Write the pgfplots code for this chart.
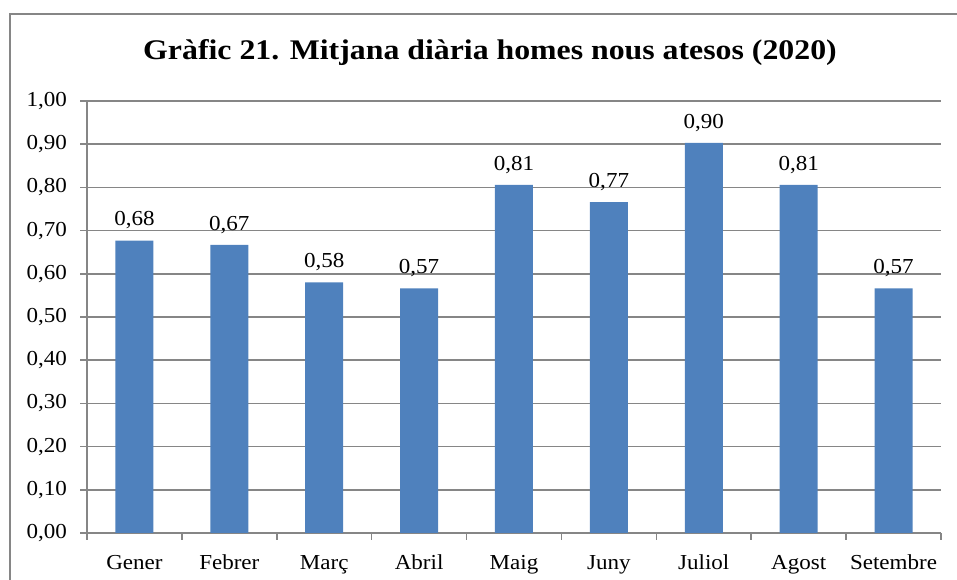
\documentclass[border=0pt]{standalone}
\usepackage{fontspec}
\setmainfont{Liberation Serif}
\newfontfamily\titlefont[FakeStretch=1.12]{Liberation Serif}
\newfontfamily\lblfont[FakeStretch=1.08]{Liberation Serif}
\usepackage{pgfplots}
\pgfplotsset{compat=1.18}
\definecolor{barblue}{HTML}{4F81BD}
\definecolor{gridgray}{HTML}{868686}
\begin{document}
\begin{tikzpicture}
\begin{axis}[
  name=ax,
  scale only axis,
  width=640.5pt, height=324pt,
  xmin=-0.5, xmax=8.5, ymin=0, ymax=1,
  axis x line=bottom, axis y line=left,
  axis line style={gridgray, line width=1.2pt, -},
  ybar, bar width=28.5pt,
  xtick={0,...,8},
  xticklabels={Gener,Febrer,Març,Abril,Maig,Juny,Juliol,Agost,Setembre},
  minor xtick={-0.5,0.5,...,8.5},
  major x tick style={draw=none},
  minor x tick style={gridgray, line width=1.2pt},
  minor tick length=5pt,
  x tick label style={font=\lblfont\fontsize{16}{19}\selectfont, anchor=base, yshift=-22.5pt},
  ytick={0,0.1,...,1.0},
  ymajorgrids,
  grid style={gridgray, line width=1.2pt},
  y tick style={gridgray, line width=1.2pt},
  tick align=outside,
  major tick length=5pt,
  y tick label style={font=\lblfont\fontsize{16}{19}\selectfont, xshift=-6.5pt},
  yticklabel={\pgfmathprintnumber[fixed, fixed zerofill, precision=2, use comma, assume math mode=true]{\tick}},
  nodes near coords,
  nodes near coords style={font=\lblfont\fontsize{16}{19}\selectfont, black, yshift=5pt},
  point meta=y,
  every node near coord/.append style={/pgf/number format/.cd, fixed, fixed zerofill, precision=2, use comma, assume math mode=true},
  clip=false,
]
\addplot[fill=barblue, draw=none] coordinates {
(0,0.677) (1,0.667) (2,0.580) (3,0.566) (4,0.806) (5,0.766) (6,0.903) (7,0.806) (8,0.566)};
\end{axis}
\draw[gridgray, line width=1.5pt] ([shift={(-57.75pt,-50pt)}]ax.south west) -- ([shift={(-57.75pt,389.25pt)}]ax.south west) -- ([shift={(670pt,389.25pt)}]ax.south west);
\node[font=\titlefont\bfseries\fontsize{21.3}{25}\selectfont] at ([shift={(302.25pt,360pt)}]ax.south west) {Gràfic 21. Mitjana diària homes nous atesos (2020)};
\pgfresetboundingbox
\path[use as bounding box] ([shift={(-65.25pt,-35.25pt)}]ax.south west) rectangle ([shift={(652.5pt,399.75pt)}]ax.south west);
\end{tikzpicture}
\end{document}
